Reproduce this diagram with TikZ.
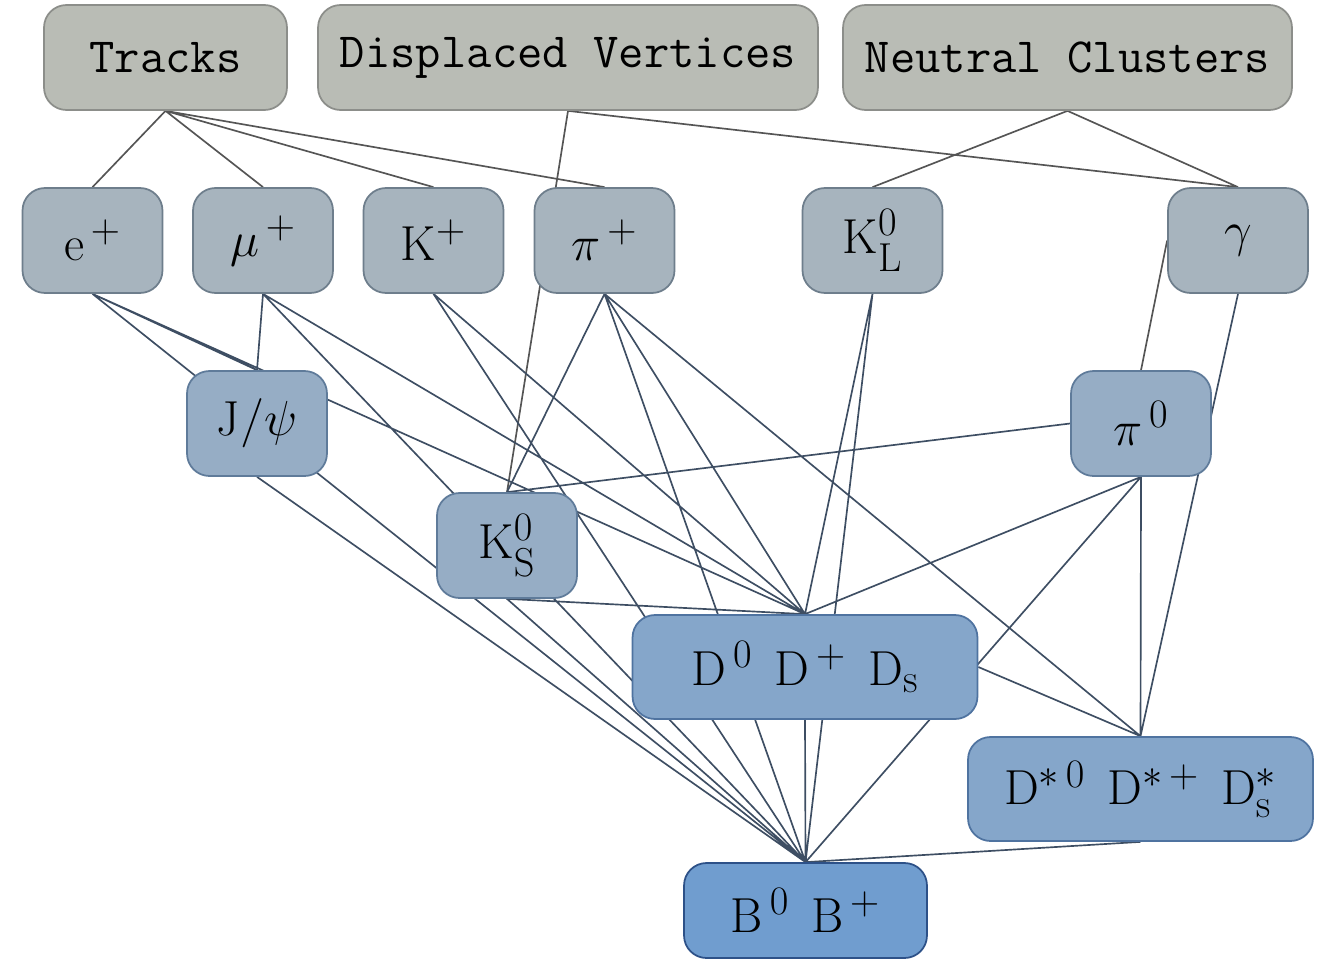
\RequirePackage{fix-cm}
\documentclass[tikz,border=0pt]{standalone}
\usepackage{amssymb}
\usepackage{tikz}
\usepackage{xcolor}
\usetikzlibrary{backgrounds, positioning}

\DeclareMathSizes{28}{28}{23}{16}

\definecolor{detfill}{HTML}{B9BCB5}
\definecolor{detline}{HTML}{8C8E8A}
\definecolor{fspfill}{HTML}{A7B4BE}
\definecolor{fspline}{HTML}{6E7E8C}
\definecolor{midfill}{HTML}{96ADC5}
\definecolor{midline}{HTML}{5F7B9A}
\definecolor{charmfill}{HTML}{85A6CA}
\definecolor{charmline}{HTML}{4F73A0}
\definecolor{bfill}{HTML}{709DCF}
\definecolor{bline}{HTML}{2D5188}
\definecolor{toplinkcol}{HTML}{555555}
\definecolor{linkcol}{HTML}{3E4E63}

\newcommand{\pgap}{\hspace{0.45em}}

\tikzset{
    pbox/.style={rounded corners=0.45cm, line width=1pt, minimum width=2.8cm, minimum height=2.1cm, inner sep=0pt},
    detbox/.style={pbox, fill=detfill, draw=detline, font=\fontsize{28}{33}\selectfont\ttfamily},
    fsp/.style={pbox, fill=fspfill, draw=fspline},
    inter/.style={pbox, fill=midfill, draw=midline},
    charm/.style={pbox, fill=charmfill, draw=charmline, minimum width=6.9cm, minimum height=2.08cm},
    bmeson/.style={pbox, fill=bfill, draw=bline, minimum width=4.86cm, minimum height=1.9cm},
    toplink/.style={draw=toplinkcol, line width=0.95pt},
    link/.style={draw=linkcol, line width=0.95pt}
}

\begin{document}
\begin{tikzpicture}[x=0.02cm, y=-0.02cm, font=\fontsize{28}{33}\selectfont]
                        \useasboundingbox (0, 0) rectangle (1324, 963);
                        % detector objects
                        \node[detbox, minimum width=4.86cm] (tracks) at (165.5, 57.5) {Tracks};
                        \node[detbox, minimum width=10cm] (dv) at (568, 57.5) {Displaced Vertices};
                        \node[detbox, minimum width=8.98cm] (nc) at (1067.5, 57.5) {Neutral Clusters};
                        % final state particles
                        \node[fsp] (ep) at (92.5, 240.5) {$\mathrm{e}^{\,+}$};
                        \node[fsp] (mu) at (263, 240.5) {$\mu^{\,+}$};
                        \node[fsp] (kp) at (433.5, 240.5) {$\mathrm{K}^+$};
                        \node[fsp] (pip) at (604.5, 240.5) {$\pi^{\,+}$};
                        \node[fsp] (klong) at (872.5, 240.5) {$\mathrm{K^0_L}$};
                        \node[fsp] (gam) at (1238, 240.5) {$\gamma$};
                        % intermediate
                        \node[inter] (jpsi) at (257, 423.5) {$\mathrm{J}/\psi$};
                        \node[inter] (pizero) at (1141, 423.5) {$\pi^{\,0}$};
                        \node[inter] (kshort) at (507, 545.5) {$\mathrm{K^0_S}$};
                        \node[charm] (dmes) at (805, 667) {$\mathrm{D^{\,0}}\pgap\mathrm{D^{\,+}}\pgap\mathrm{D_s}$};
                        \node[charm] (dstar) at (1140.5, 789) {$\mathrm{D^{*\,0}}\pgap\mathrm{D^{*\,+}}\pgap\mathrm{D^*_s}$};
                        \node[bmeson] (bmes) at (805.5, 910.5) {$\mathrm{B^{\,0}}\pgap\mathrm{B^{\,+}}$};
                        \begin{scope}[on background layer]
                        \draw[toplink]
                        (ep.north) -- (tracks.south) -- (mu.north)
                        (kp.north) -- (tracks.south) -- (pip.north)
                        (kshort.north) -- (dv.south) -- (gam.north)
                        (klong.north) -- (nc.south) -- (gam.north)
                        (gam.west) -- (pizero.north);
                        \draw[link]
                        (jpsi.north) -- (ep.south) -- (dmes.north)
                        (ep.south) -- (bmes.north)
                        (jpsi.north) -- (mu.south) -- (dmes.north)
                        (mu.south) -- (bmes.north)
                        (dmes.north) -- (kp.south) -- (bmes.north)
                        (kshort.north) -- (pip.south) -- (dmes.north)
                        (pip.south) -- (bmes.north)
                        (pip.south) -- (dstar.north)
                        (dmes.north) -- (klong.south) -- (bmes.north)
                        (gam.south) -- (dstar.north)
                        (jpsi.south) -- (bmes.north)
                        (kshort.north) -- (pizero.west)
                        (dmes.north) -- (kshort.south) -- (bmes.north)
                        (dmes.north) -- (pizero.south) -- (bmes.north)
                        (pizero.south) -- (dstar.north)
                        (dmes.east) -- (dstar.north)
                        (dmes.south) -- (bmes.north)
                        (dstar.south) -- (bmes.north);
                        \end{scope}
                    \end{tikzpicture}
\end{document}
